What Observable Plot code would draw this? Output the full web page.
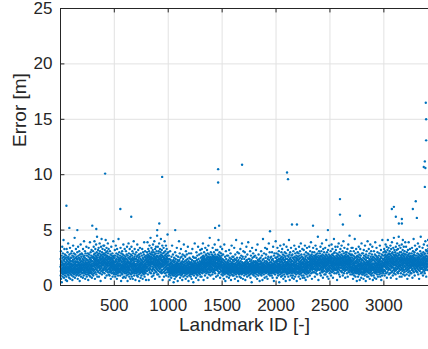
<!DOCTYPE html>
<html>
<head>
<meta charset="utf-8">
<script src="https://cdn.jsdelivr.net/npm/d3@7"></script>
<script src="https://cdn.jsdelivr.net/npm/@observablehq/plot@0.6"></script>
<style>
html,body{margin:0;padding:0;background:#fff;}
</style>
</head>
<body>
<div id="chart"></div>
<script>
// Tick labels
const xTicks = [500, 1000, 1500, 2000, 2500, 3000];
const yTicks = [0, 5, 10, 15, 20, 25];
const xLabel = "Landmark ID [-]";
const yLabel = "Error [m]";

// Error per landmark, in tenths of a metre, by ID block
const errIds0001 = [
17,24,9,13,31,19,6,22,15,12,27,18,3,14,21,11,35,16,25,8,19,13,29,20,15,10,23,17,41,12,18,26,7,16,14,22,33,11,19,24,15,28,13,9,20,17,12,25,16,5,
14,21,27,11,18,8,16,33,23,13,19,4,25,15,12,30,17,22,10,20,14,38,16,26,12,9,19,24,15,21,7,17,13,28,18,11,23,16,34,14,20,6,25,13,17,22,10,19,29,15,
20,12,16,25,9,18,31,14,22,17,5,27,13,19,11,23,15,36,18,8,21,14,26,16,12,29,19,10,24,15,17,43,13,20,7,22,16,28,11,18,14,25,19,33,12,21,15,9,17,24,
13,26,18,10,22,15,30,17,12,24,6,19,14,35,21,16,11,27,13,20,9,18,25,15,31,12,23,17,4,19,14,28,16,21,10,24,13,37,18,15,22,8,26,17,12,20,29,14,19,16,
22,15,11,28,18,14,24,7,19,33,16,21,12,26,17,9,23,14,40,18,13,20,27,11,16,25,15,31,19,6,22,13,17,29,12,21,16,10,24,18,35,14,20,8,27,15,19,23,12,17,
16,23,10,19,29,14,21,5,17,26,13,34,18,11,22,15,28,20,9,16,24,12,19,39,14,25,17,8,21,30,13,18,23,15,11,27,19,16,32,12,22,7,17,25,14,20,10,26,18,15,
22,15,31,18,9,26,20,13,35,24,17,28,11,21,19,40,14,25,23,6,29,18,16,33,22,12,27,20,15,24,37,19,10,26,21,17,30,14,23,44,18,25,8,20,28,16,22,13,32,19,
19,27,12,23,34,17,21,8,29,16,25,20,14,38,22,18,31,11,24,26,15,20,4,28,23,17,35,13,21,27,19,42,16,24,10,30,22,18,25,14,33,20,26,12,19,28,23,15,36,21,
25,18,14,29,21,36,16,23,11,27,20,32,17,24,7,22,19,28,15,41,25,13,21,30,18,26,16,34,9,23,20,27,14,19,31,24,17,22,12,38,26,18,29,21,15,25,33,20,10,24,
18,22,13,26,16,9,20,24,15,31,19,12,23,17,28,14,21,6,25,18,16,35,20,13,22,27,11,19,24,17,15,29,21,8,18,23,14,26,20,16,40,12,22,19,25,17,10,27,15,21
];
const errIds0501 = [
19,11,25,16,32,14,21,18,8,27,13,23,15,36,17,10,22,19,12,29,16,24,14,6,20,33,15,18,26,11,21,17,13,28,9,23,16,19,42,14,25,12,18,22,15,30,20,13,17,24,
12,20,27,15,9,23,18,34,13,19,25,16,4,22,14,29,17,11,21,26,15,18,31,10,24,13,19,16,28,7,22,17,14,37,20,12,25,18,15,23,8,27,16,21,13,33,19,11,24,17,
15,22,18,7,26,13,20,31,16,11,24,19,14,28,9,21,17,35,12,23,15,19,4,27,18,13,22,16,10,25,20,38,14,17,29,12,21,16,8,24,18,15,33,11,20,26,14,19,6,23,
21,14,28,17,10,19,24,13,35,16,22,8,18,27,12,20,15,31,11,25,17,6,23,14,19,29,16,12,21,40,15,18,24,9,20,13,26,17,33,14,22,11,19,28,16,5,24,15,18,13,
13,24,17,30,11,20,15,26,9,18,22,14,37,16,12,27,19,8,23,15,21,32,13,17,25,10,19,16,28,14,4,22,18,12,26,15,20,34,11,17,24,14,19,7,29,16,21,13,18,23,
18,9,23,15,27,12,20,16,33,14,22,19,6,25,13,17,30,11,21,15,24,18,10,28,16,13,39,19,22,14,8,26,17,12,20,31,15,23,18,11,25,14,19,5,27,16,21,13,17,22,
16,24,30,19,13,26,22,39,17,21,28,10,25,15,33,20,23,18,5,27,22,14,31,19,26,16,36,24,12,21,29,18,25,15,20,43,23,17,28,11,22,26,19,34,14,24,20,8,30,21,
28,20,13,25,17,32,22,15,37,19,24,9,27,21,16,30,23,11,26,18,40,20,14,28,24,19,6,22,33,17,25,13,21,29,16,35,23,18,26,12,20,31,24,15,27,19,45,22,10,17,
21,14,26,35,18,23,10,29,20,16,25,31,13,22,19,38,24,17,8,27,21,15,33,20,26,12,23,18,30,16,24,42,19,13,28,22,17,25,11,32,20,27,14,23,36,18,21,5,26,19,
17,29,22,12,26,19,34,15,24,21,8,30,18,25,13,23,40,20,16,27,22,11,31,19,24,14,28,21,36,17,23,9,26,20,15,33,25,18,22,12,29,24,16,46,21,19,27,14,24,30
];
const errIds1001 = [
14,19,8,16,22,12,27,15,10,18,13,24,5,17,20,11,15,31,13,19,9,16,23,14,12,21,17,7,15,26,13,18,11,20,16,36,14,10,22,17,12,19,15,28,9,16,13,23,18,3,
16,11,21,14,25,9,17,13,19,6,15,22,12,30,16,18,10,14,24,13,20,8,17,15,27,12,19,11,16,34,14,21,9,18,13,23,15,4,17,20,12,26,14,10,19,16,13,22,15,40,
12,18,15,23,10,16,29,13,20,7,17,14,25,11,19,16,12,33,15,21,9,14,18,26,13,17,10,20,15,5,22,16,12,28,14,19,11,17,24,13,8,16,21,15,37,12,18,14,27,16,
19,13,16,9,22,15,11,26,17,14,20,6,13,31,16,18,12,23,15,10,17,28,14,21,12,16,8,19,15,24,11,35,14,18,13,20,16,4,22,15,12,29,17,14,9,19,25,13,16,21,
15,10,20,13,17,24,11,16,8,19,14,29,12,18,21,15,6,17,13,23,16,10,19,33,14,12,20,17,15,26,11,18,3,16,22,13,19,14,9,25,15,12,17,21,13,38,16,18,11,20,
13,22,16,11,18,25,14,7,20,15,12,30,17,19,10,23,14,16,13,27,18,9,15,21,12,17,35,14,19,5,16,24,13,11,20,15,18,28,12,16,22,14,10,19,17,13,32,15,8,21,
20,15,25,12,18,29,21,16,8,23,19,33,14,22,17,26,11,20,24,15,19,38,13,21,27,16,23,5,18,25,14,20,30,17,22,12,26,19,16,24,9,21,18,34,15,23,20,13,28,17,
16,23,19,11,27,21,14,25,18,32,13,20,24,7,22,17,29,15,19,26,12,21,36,18,23,16,10,25,20,14,28,19,22,15,43,17,24,12,21,26,18,9,23,16,30,20,14,25,19,22,
23,17,13,21,28,16,24,19,10,26,15,34,20,18,22,12,27,14,25,19,6,23,17,30,21,15,26,13,20,24,37,18,16,22,11,28,19,25,14,21,17,32,23,8,20,26,15,18,24,16,
14,26,20,17,23,32,15,21,9,19,25,13,28,22,16,41,18,24,11,20,27,17,23,15,19,30,12,22,26,18,7,24,16,21,35,14,20,25,17,29,13,22,19,10,27,16,23,21,18,33
];
const errIds1501 = [
18,14,24,12,16,9,21,15,28,13,19,11,17,23,14,6,20,16,12,37,15,18,10,22,13,17,26,14,19,4,16,21,12,15,31,18,13,24,11,17,14,20,8,16,27,15,12,19,22,14,
11,17,21,15,27,13,18,10,16,23,14,19,7,15,32,12,20,17,14,25,9,16,13,22,18,15,11,29,17,14,20,5,16,24,13,19,12,36,15,18,10,21,14,17,26,13,16,9,19,23,
20,14,17,12,26,16,9,19,15,22,13,34,17,11,18,14,24,6,16,20,13,28,15,12,19,17,10,23,14,41,16,18,12,21,15,8,17,25,13,19,16,30,11,14,22,18,15,4,20,13,
14,23,12,18,16,29,10,15,21,13,19,8,17,25,14,11,20,16,33,13,18,15,22,7,17,12,27,14,19,16,10,24,15,38,13,18,21,11,16,14,26,17,6,20,12,15,31,18,14,19,
17,12,20,15,9,24,14,18,11,30,16,13,21,15,5,19,17,26,12,14,22,16,10,18,35,13,20,15,12,23,17,8,16,28,14,19,11,21,15,17,13,39,16,20,12,24,14,9,18,15,
12,19,15,24,13,17,10,22,16,31,14,18,7,20,13,16,27,15,11,19,14,23,17,3,16,21,12,34,15,18,13,25,10,17,20,14,16,29,12,19,15,22,9,18,14,26,16,11,21,17,
16,21,13,18,11,27,15,19,14,8,22,17,12,32,16,20,13,15,25,10,18,14,21,16,6,19,13,37,17,15,23,12,20,14,18,9,16,28,15,13,22,17,11,19,14,24,16,4,20,15,
19,13,16,22,14,10,25,17,12,20,15,31,13,18,9,21,16,14,27,11,17,19,15,5,23,13,18,16,42,14,20,12,17,24,15,10,19,14,29,16,13,21,18,7,15,22,12,17,34,16,
13,18,25,15,11,20,16,28,14,17,8,22,13,19,15,33,12,16,21,14,6,18,24,15,12,19,17,26,13,10,20,16,38,14,18,11,23,15,17,13,30,19,14,9,21,16,12,25,15,18,
18,15,11,21,17,26,13,19,14,9,23,16,30,12,18,15,20,7,17,24,13,16,35,14,19,11,22,15,18,4,27,16,13,20,14,17,29,12,21,15,10,19,16,25,13,18,40,14,17,22
];
const errIds2001 = [
25,16,12,21,18,29,14,7,23,17,20,13,34,15,26,11,19,22,16,9,28,14,18,24,12,31,17,20,15,3,22,19,13,27,16,10,24,18,36,14,21,15,12,25,17,19,8,23,16,30,
11,19,26,15,22,13,33,17,9,21,16,24,14,28,18,12,20,6,25,15,19,37,13,23,17,10,27,16,21,14,30,18,8,22,15,12,26,19,16,4,24,13,29,17,20,14,35,18,11,21,
20,15,24,10,18,27,13,21,16,32,12,19,23,8,17,26,14,20,15,41,11,22,18,28,13,16,5,24,19,14,30,17,12,21,25,15,9,18,34,16,23,13,20,27,17,11,22,14,19,7,
16,28,13,19,22,9,25,15,18,12,31,20,14,24,6,17,21,15,36,13,19,26,11,23,16,18,8,29,14,21,17,12,33,15,25,19,10,22,16,27,13,4,20,18,24,15,30,12,17,23,
23,17,11,26,15,20,13,29,18,8,22,16,35,12,24,19,14,27,10,21,15,31,17,6,25,13,19,22,16,38,11,20,18,14,28,15,23,9,17,26,12,21,19,33,14,16,24,7,20,13,
14,21,17,25,9,19,32,12,23,16,18,28,13,7,22,15,20,36,11,24,17,14,26,19,5,21,16,30,13,18,23,10,27,15,20,12,34,17,22,14,19,8,25,16,29,13,21,18,11,24,
21,16,28,19,12,24,18,35,14,22,26,17,9,20,25,15,31,23,18,13,27,21,16,39,19,24,11,22,17,28,15,20,6,26,18,23,14,30,21,16,25,19,12,34,22,17,24,20,15,27,
17,24,12,22,30,19,15,26,21,8,23,18,27,14,20,36,16,25,22,11,19,28,17,24,13,21,33,18,26,15,20,10,23,29,17,22,14,44,19,25,16,21,5,27,18,23,15,31,20,24,
25,19,14,23,17,29,21,11,26,18,22,35,15,20,24,9,27,16,21,31,13,23,19,17,26,38,14,22,20,12,28,18,24,16,7,21,25,33,19,15,23,27,13,20,17,30,22,18,10,24,
19,13,26,21,16,34,23,18,10,25,20,28,15,22,17,41,24,12,19,27,21,14,30,18,23,8,26,16,20,24,13,32,22,19,15,25,6,21,28,17,23,20,36,14,18,26,11,22,24,16
];
const errIds2501 = [
22,27,16,20,13,25,31,18,23,9,21,26,15,19,37,24,17,12,22,28,20,14,33,18,25,16,21,7,27,19,23,13,29,22,17,24,42,15,20,26,11,18,30,23,16,21,25,14,19,35,
15,21,25,18,32,14,23,20,11,27,17,22,29,16,24,5,19,26,21,13,35,18,23,15,20,28,12,25,19,17,38,22,16,24,10,21,27,14,30,19,23,18,8,26,20,16,33,22,25,13,
24,18,21,13,28,22,16,36,19,25,12,20,27,17,23,15,31,21,9,26,18,24,14,22,40,19,16,29,23,11,25,20,17,34,21,15,27,13,22,18,26,7,24,19,30,16,21,23,14,28,
20,25,17,30,14,22,19,11,26,23,16,33,21,18,8,27,15,24,20,37,13,22,26,17,19,29,23,12,25,16,21,45,18,24,14,20,28,16,22,10,31,19,25,17,23,13,27,21,15,34,
19,12,28,16,22,14,10,25,17,34,13,20,18,6,23,15,27,11,21,16,31,14,19,24,9,18,13,26,20,42,15,17,22,12,29,16,8,21,14,25,18,11,33,15,20,13,23,17,4,26,
22,16,13,27,18,11,24,15,30,19,8,21,14,26,17,12,35,20,15,23,10,18,28,13,16,5,22,19,25,14,33,17,11,20,15,27,12,24,18,7,21,16,38,13,19,23,15,29,17,10,
17,23,10,20,15,29,12,18,25,14,6,22,16,32,19,13,27,11,21,17,15,24,9,19,36,14,20,16,12,26,18,4,23,15,28,13,21,17,10,31,16,19,14,25,8,22,18,13,40,20,
12,25,18,15,21,8,27,16,13,33,19,22,11,17,24,14,29,20,6,16,23,18,12,37,15,21,10,26,17,14,19,31,13,24,16,9,22,18,28,15,11,20,35,17,14,25,19,5,23,16,
26,14,20,17,9,23,16,31,12,19,25,15,7,22,18,13,28,20,16,39,11,24,17,14,21,27,13,18,6,23,15,34,19,12,26,16,20,10,24,17,30,14,22,18,8,25,13,19,16,21,
15,20,27,12,18,23,16,10,29,14,21,17,36,13,24,19,8,22,15,26,11,18,32,16,20,5,25,14,19,13,28,17,22,9,16,41,21,15,24,12,18,27,14,20,17,11,30,19,23,13
];
const errIds3001 = [
24,18,33,21,14,27,20,9,25,17,31,22,13,28,19,37,23,16,26,11,21,30,18,24,15,35,20,7,27,22,17,25,12,32,19,23,41,16,28,21,14,26,20,34,18,10,24,29,22,15,
20,26,15,31,22,17,11,28,24,19,36,14,23,21,7,27,18,33,25,16,22,12,29,20,39,17,24,26,13,21,30,19,9,25,23,16,34,20,28,14,22,18,43,24,11,27,19,32,21,15,
26,13,22,19,30,16,25,10,28,21,35,18,23,14,27,20,6,24,32,17,22,15,38,26,19,12,29,23,17,25,33,11,21,27,16,24,20,44,18,13,28,22,36,15,25,19,8,30,23,17,
18,25,21,34,14,27,19,11,23,30,16,22,26,8,20,37,24,15,28,18,13,25,21,32,17,41,23,19,10,27,22,16,29,20,35,14,24,26,12,21,18,31,25,9,23,28,17,39,20,24,
17,22,28,15,20,35,13,24,19,26,10,21,18,30,23,16,25,6,22,19,27,14,32,20,24,17,12,28,21,39,15,23,18,26,9,20,24,29,16,22,13,33,19,25,17,21,27,11,23,18,
26,16,21,19,11,24,29,17,22,14,34,20,25,18,7,23,27,15,21,31,19,13,26,22,17,42,20,24,12,28,18,23,16,30,21,9,25,19,36,15,22,27,14,20,24,17,32,18,23,13,
13,23,19,27,21,16,33,18,25,12,22,29,20,15,24,38,17,21,10,26,19,23,14,28,22,18,6,25,20,35,16,24,19,13,27,21,31,17,23,15,20,44,18,26,11,22,29,16,24,19,
21,28,15,24,18,12,27,20,34,16,23,19,9,25,22,30,14,21,17,26,37,18,24,13,20,28,16,23,11,29,19,25,15,22,40,17,21,26,14,32,20,24,8,27,18,23,16,31,22,19,
22,31,17,26,36,20,14,29,24,41,19,33,25,21
];

// Isolated large-error landmarks
const outlierIds = [56, 83, 157, 296, 333, 415, 556, 657, 898, 917, 944, 1065, 1435, 1463, 1463, 1472, 1685, 1944, 2102, 2111, 2148, 2194, 2343, 2481, 2593, 2593, 2620, 2778, 3074, 3093, 3111, 3139, 3167, 3167, 3269, 3296, 3306, 3370, 3380, 3380, 3385, 3389, 3392, 3392];
const outlierErr = [7.2, 5.2, 5.0, 5.4, 5.1, 10.1, 6.9, 6.2, 5.0, 5.6, 9.8, 5.0, 5.2, 10.5, 9.3, 5.4, 10.9, 4.9, 10.2, 9.6, 5.5, 5.5, 5.4, 5.0, 7.8, 6.4, 5.5, 6.3, 6.9, 7.1, 6.2, 5.6, 6.0, 5.6, 6.9, 7.6, 6.1, 10.7, 11.2, 8.9, 10.6, 16.5, 15.0, 13.1];

const blocks = [[1, errIds0001], [501, errIds0501], [1001, errIds1001], [1501, errIds1501], [2001, errIds2001], [2501, errIds2501], [3001, errIds3001]];
const points = [];
for (const [start, vals] of blocks) vals.forEach((v, i) => points.push({id: start + i, err: v / 10}));
outlierIds.forEach((id, i) => points.push({id, err: outlierErr[i]}));

const axisColor = "#262626";
const gridColor = "#e2e2e2";
const blue = "#0072BD";

const chart = Plot.plot({
  width: 428,
  height: 349,
  marginLeft: 60,
  marginRight: 0,
  marginTop: 8,
  marginBottom: 64,
  style: {fontFamily: "'Liberation Sans', Arial, Helvetica, sans-serif", fontSize: "17px", color: axisColor, background: "#fff", overflow: "visible"},
  x: {domain: [1, 3414]},
  y: {domain: [0, 25]},
  marks: [
    Plot.gridX(xTicks, {stroke: gridColor, strokeOpacity: 1}),
    Plot.gridY(yTicks.slice(1), {stroke: gridColor, strokeOpacity: 1}),
    Plot.dot(points, {x: "id", y: "err", r: 1.2, fill: blue, stroke: null}),
    Plot.axisX(xTicks, {tickSize: 0, tickPadding: 13, label: null, fontSize: 17, tickFormat: d => String(d)}),
    Plot.axisY(yTicks, {tickSize: 0, tickPadding: 8, label: null, fontSize: 17, tickFormat: d => String(d)}),
    Plot.ruleX([1], {stroke: axisColor}),
    Plot.ruleY([0, 25], {stroke: axisColor}),
    Plot.ruleX(xTicks, {y1: 0, y2: 0.4, stroke: axisColor}),
    Plot.ruleX(xTicks, {y1: 25, y2: 24.6, stroke: axisColor}),
    Plot.ruleY(yTicks, {x1: 1, x2: 42, stroke: axisColor}),
    Plot.text([xLabel], {text: d => d, frameAnchor: "bottom", dy: 45, fontSize: 19, fill: axisColor}),
    Plot.text([yLabel], {text: d => d, frameAnchor: "left", dx: -41, rotate: -90, fontSize: 19, fill: axisColor})
  ]
});
document.getElementById("chart").appendChild(chart);
</script>
</body>
</html>
